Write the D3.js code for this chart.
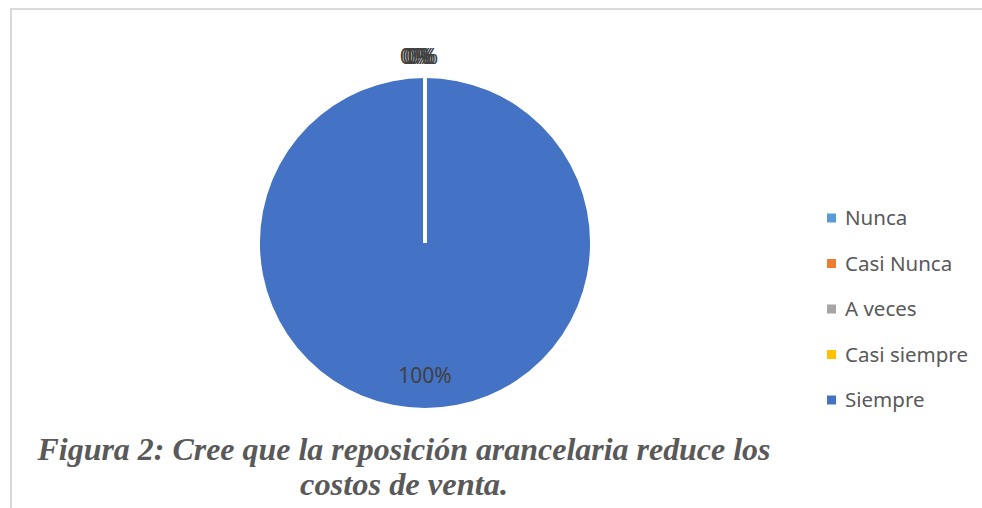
<!DOCTYPE html>
<html>
<head>
<meta charset="utf-8">
<script src="https://cdn.jsdelivr.net/npm/d3@7"></script>
<style>
  body { margin: 0; background: #fff; }
  svg { display: block; }
</style>
</head>
<body>
<script>
// chart data
var categories = ["Nunca", "Casi Nunca", "A veces", "Casi siempre", "Siempre"];
var values = [0, 0, 0, 0, 100];
var colors = ["#5B9BD5", "#ED7D31", "#A5A5A5", "#FFC000", "#4472C4"];
var captionLines = ["Figura 2: Cree que la reposición arancelaria reduce los", "costos de venta."];

var width = 982, height = 508;
var cx = 425, cy = 243, radius = 165;

var svg = d3.select("body").append("svg")
    .attr("width", width)
    .attr("height", height);

// chart area border (top and left visible)
svg.append("path")
    .attr("d", "M11,508 V9 H982")
    .attr("fill", "none")
    .attr("stroke", "#d9d9d9")
    .attr("stroke-width", 2);

var data = categories.map(function(c, i) {
  return { name: c, value: values[i], color: colors[i] };
});

var total = d3.sum(values);

var pie = d3.pie()
    .sort(null)
    .value(function(d) { return d.value; });

var arc = d3.arc().innerRadius(0).outerRadius(radius);

var g = svg.append("g")
    .attr("transform", "translate(" + cx + "," + cy + ")");

var arcs = pie(data);

g.selectAll("path.slice")
    .data(arcs)
  .enter().append("path")
    .attr("class", "slice")
    .attr("d", arc)
    .attr("fill", function(d) { return d.data.color; });

// white separators between slices
g.selectAll("line.sep")
    .data(arcs)
  .enter().append("line")
    .attr("class", "sep")
    .attr("x1", 0).attr("y1", 0)
    .attr("x2", function(d) { return radius * Math.sin(d.startAngle); })
    .attr("y2", function(d) { return -radius * Math.cos(d.startAngle); })
    .attr("stroke", "#fff")
    .attr("stroke-width", 3);

// data labels (zero slices pile up at the top, like the original)
var fmt = function(v) { return Math.round(v / total * 100) + "%"; };
var zeroIdx = 0;
g.selectAll("text.lbl")
    .data(arcs)
  .enter().append("text")
    .attr("class", "lbl")
    .attr("font-family", "'Noto Sans', 'Open Sans', sans-serif")
    .attr("font-size", function(d) { return d.value === 0 ? 22 : 21; })
    .attr("fill", "#404040")
    .attr("text-anchor", "middle")
    .attr("transform", function(d) {
      var a = (d.startAngle + d.endAngle) / 2;
      if (d.value === 0) {
        var off = (zeroIdx++ - 1.5) * 2.5;
        var r = radius + 22;
        return "translate(" + (r * Math.sin(a) - 6 + off) + "," + (-r * Math.cos(a) + 8) + ")";
      }
      var r2 = radius * 0.8;
      return "translate(" + (r2 * Math.sin(a)) + "," + (-r2 * Math.cos(a) + 8) + ")";
    })
    .text(function(d) { return fmt(d.value); });

// legend
var legend = svg.append("g")
    .attr("transform", "translate(827,218)");

var item = legend.selectAll("g")
    .data(data)
  .enter().append("g")
    .attr("transform", function(d, i) { return "translate(0," + (i * 45.5) + ")"; });

item.append("rect")
    .attr("x", 0).attr("y", -4.5)
    .attr("width", 9).attr("height", 9)
    .attr("fill", function(d) { return d.color; });

item.append("text")
    .attr("x", 18)
    .attr("y", 7)
    .attr("font-family", "'Noto Sans', 'Open Sans', sans-serif")
    .attr("font-size", 20.5)
    .attr("fill", "#595959")
    .text(function(d) { return d.name; });

// caption
var capWidths = [733, 208];
svg.selectAll("text.cap")
    .data(captionLines)
  .enter().append("text")
    .attr("class", "cap")
    .attr("x", 404)
    .attr("y", function(d, i) { return 460 + i * 35; })
    .attr("text-anchor", "middle")
    .attr("font-family", "'Liberation Serif', 'Times New Roman', serif")
    .attr("font-size", 31)
    .attr("font-weight", "bold")
    .attr("font-style", "italic")
    .attr("fill", "#595959")
    .attr("textLength", function(d, i) { return capWidths[i]; })
    .attr("lengthAdjust", "spacingAndGlyphs")
    .text(function(d) { return d; });
</script>
</body>
</html>
